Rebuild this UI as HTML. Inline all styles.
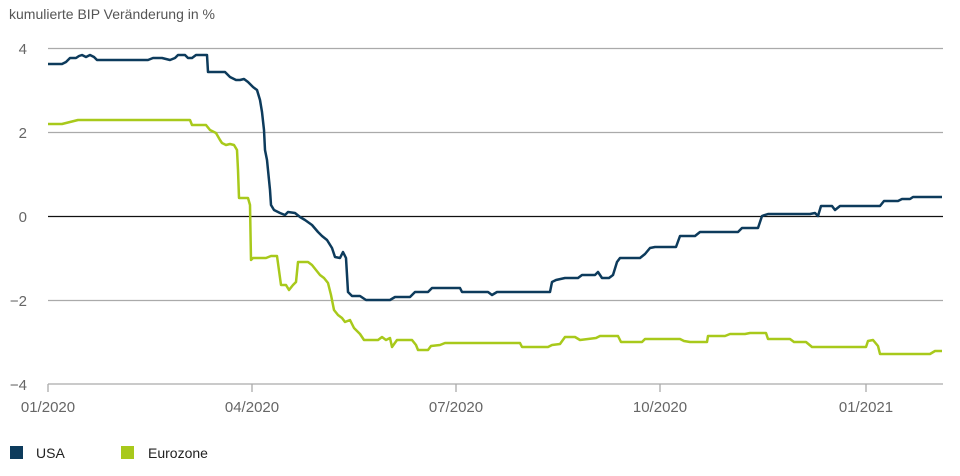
<!DOCTYPE html>
<html><head><meta charset="utf-8"><style>
body{margin:0;background:#fff;}
svg text{font-family:"Liberation Sans",sans-serif;}
</style></head><body>
<svg width="960" height="471" viewBox="0 0 960 471" xmlns="http://www.w3.org/2000/svg">
<rect width="960" height="471" fill="#fff"/>
<text x="9" y="19" font-size="14" fill="#555">kumulierte BIP Veränderung in %</text>
<g stroke="#aaa" stroke-width="1.3">
<line x1="48" y1="48.5" x2="943" y2="48.5"/>
<line x1="48" y1="132.5" x2="943" y2="132.5"/>
<line x1="48" y1="300.5" x2="943" y2="300.5"/>
<line x1="48" y1="384" x2="943" y2="384"/>
<line x1="48" y1="384" x2="48" y2="392"/>
<line x1="252" y1="384" x2="252" y2="392"/>
<line x1="456" y1="384" x2="456" y2="392"/>
<line x1="660" y1="384" x2="660" y2="392"/>
<line x1="866" y1="384" x2="866" y2="392"/>
</g>
<line x1="48" y1="216.5" x2="943" y2="216.5" stroke="#111" stroke-width="1.2"/>
<g font-size="15" fill="#666" text-anchor="end">
<text x="27" y="54">4</text><text x="27" y="138">2</text><text x="27" y="222">0</text>
<text x="27" y="306">−2</text><text x="27" y="390">−4</text>
</g>
<g font-size="15" fill="#666" text-anchor="middle">
<text x="48" y="412">01/2020</text><text x="252" y="412">04/2020</text><text x="456" y="412">07/2020</text>
<text x="660" y="412">10/2020</text><text x="866" y="412">01/2021</text>
</g>
<polyline fill="none" stroke="#a8c91b" stroke-width="2.5" stroke-linejoin="round" points="48,124 62,124 70,122 78,120 190,120 192,125 206,125 210,130 216,133 220,140 222,143 226,145 230,144 234,145 237,150 238,170 239,198 248,198 250,205 251,260 253,258 266,258 271,256 277,256 281,285 286,285 289,290 293,285 296,282 298,262 308,262 312,265 316,270 320,275 324,278 328,283 331,295 334,310 338,315 342,318 345,322 350,320 354,328 360,334 364,340 378,340 382,337 386,340 390,338 392,347 397,340 412,340 416,345 418,350 428,350 431,346 440,345 445,343 520,343 522,347 548,347 552,345 560,344 565,337 575,337 580,340 596,338 600,336 618,336 621,342 642,342 645,339 680,339 684,341 690,342 707,342 708,336 725,336 730,334 745,334 750,333 766,333 768,339 790,339 794,342 806,342 812,347 866,347 868,341 873,340 878,346 880,354 930,354 935,351 942,351"/>
<polyline fill="none" stroke="#0d3b5c" stroke-width="2.5" stroke-linejoin="round" points="48,64 62,64 66,62 70,58 76,58 79,56 82,55 86,57 90,55 94,57 97,60 148,60 153,58 162,58 170,60 175,58 178,55 185,55 188,58 192,58 196,55 207,55 208,72 225,72 230,77 236,80 240,80 244,79 248,82 253,87 257,90 260,100 262,112 264,130 265,150 267,160 268,170 270,190 271,205 274,210 280,213 285,215 288,212 295,213 300,217 305,220 312,225 318,232 322,236 327,240 332,248 335,257 340,258 343,252 346,258 348,292 352,296 360,296 366,300 390,300 395,297 410,297 415,292 428,292 432,288 460,288 462,292 488,292 492,295 497,292 550,292 552,282 556,280 565,278 578,278 582,275 595,275 598,272 602,278 609,278 613,275 617,262 620,258 640,258 645,254 650,248 655,247 676,247 680,236 695,236 700,232 738,232 742,228 758,228 762,216 768,214 810,214 815,213 818,216 821,206 832,206 835,210 840,206 880,206 884,201 898,201 902,199 910,199 913,197 942,197"/>
<rect x="10" y="446" width="13" height="13" fill="#0d3b5c"/>
<text x="36" y="458" font-size="14" fill="#222">USA</text>
<rect x="121" y="446" width="13" height="13" fill="#a8c91b"/>
<text x="148" y="458" font-size="14" fill="#222">Eurozone</text>
</svg>
</body></html>
